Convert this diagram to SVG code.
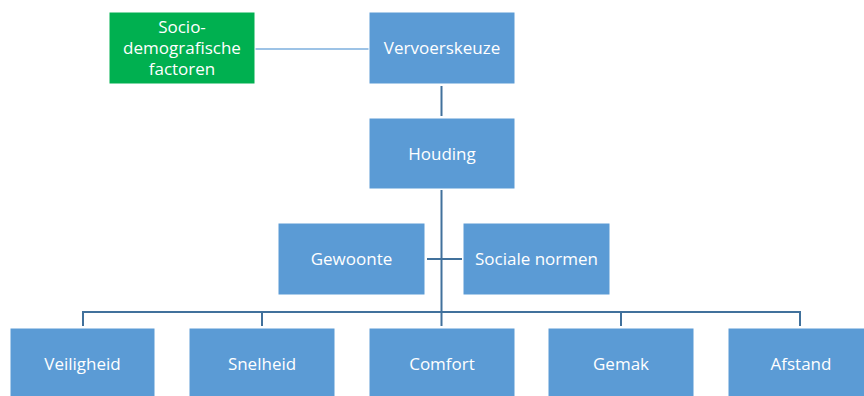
<svg xmlns="http://www.w3.org/2000/svg" width="864" height="396" viewBox="0 0 864 396">
<style>
.box{fill:#5B9BD5;stroke:#ffffff;stroke-width:1}
.green{fill:#00B050;stroke:#ffffff;stroke-width:1}
.t{font-family:"Open Sans","Liberation Sans",sans-serif;font-size:17px;fill:#ffffff;text-anchor:middle}
.c{fill:none;stroke:#41719C;stroke-width:2}
.cl{fill:none;stroke:#9DC3E6;stroke-width:2}
</style>
<rect width="864" height="396" fill="#ffffff"/>
<g id="connectors">
<line class="cl" x1="255" y1="49" x2="369" y2="49"/>
<line class="c" x1="441.5" y1="86" x2="441.5" y2="116"/>
<line class="c" x1="441.5" y1="190" x2="441.5" y2="326"/>
<line class="c" x1="427" y1="259" x2="462" y2="259"/>
<polyline class="c" points="83,326 83,312 800,312 800,326"/>
<line class="c" x1="262" y1="312" x2="262" y2="326"/>
<line class="c" x1="621" y1="312" x2="621" y2="326"/>
</g>
<g id="socio">
<rect class="green" x="109" y="12" width="146" height="72"/>
<text class="t" x="182" y="33">Socio-</text>
<text class="t" x="182" y="54">demografische</text>
<text class="t" x="182" y="75">factoren</text>
</g>
<g id="vervoerskeuze">
<rect class="box" x="369" y="12" width="146" height="72"/>
<text class="t" x="442" y="54">Vervoerskeuze</text>
</g>
<g id="houding">
<rect class="box" x="369" y="118" width="146" height="71"/>
<text class="t" x="442" y="159.5">Houding</text>
</g>
<g id="gewoonte">
<rect class="box" x="278" y="223" width="147" height="72"/>
<text class="t" x="351.5" y="265">Gewoonte</text>
</g>
<g id="sociale-normen">
<rect class="box" x="463" y="223" width="147" height="72"/>
<text class="t" x="536.5" y="265">Sociale normen</text>
</g>
<g id="veiligheid">
<rect class="box" x="10" y="328" width="145" height="72"/>
<text class="t" x="82.5" y="370">Veiligheid</text>
</g>
<g id="snelheid">
<rect class="box" x="189" y="328" width="146" height="72"/>
<text class="t" x="262" y="370">Snelheid</text>
</g>
<g id="comfort">
<rect class="box" x="369" y="328" width="146" height="72"/>
<text class="t" x="442" y="370">Comfort</text>
</g>
<g id="gemak">
<rect class="box" x="548" y="328" width="146" height="72"/>
<text class="t" x="621" y="370">Gemak</text>
</g>
<g id="afstand">
<rect class="box" x="728" y="328" width="146" height="72"/>
<text class="t" x="801" y="370">Afstand</text>
</g>
</svg>
